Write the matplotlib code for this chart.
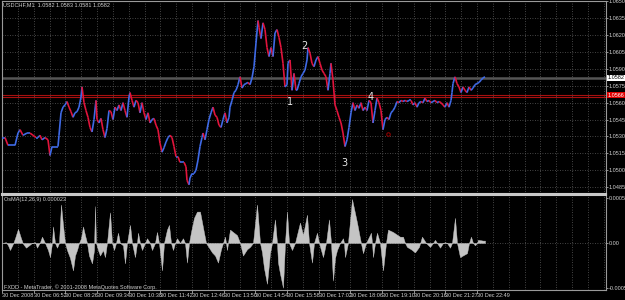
import numpy as np
import matplotlib
matplotlib.use('Agg')
import matplotlib.pyplot as plt
from matplotlib.collections import LineCollection

plt.rcParams['font.family'] = ['Liberation Sans Narrow', 'Liberation Sans', 'DejaVu Sans']

## ---------------------------------------------------------------- ##
## data (x = position along the time axis)
bar_x = [2, 5, 8, 12, 15, 18, 20, 23, 27, 30, 33, 36, 38, 40, 42, 45, 48, 50, 52, 55,
         58, 59, 61, 63, 65, 67, 69, 71, 73, 75, 77, 79, 81, 82, 84, 86, 88, 90, 92, 94,
         96, 97, 99, 101, 103, 105, 107, 109, 111, 113, 115, 117, 119, 121, 123, 125, 127, 129, 130, 132,
         134, 136, 138, 140, 142, 144, 146, 148, 150, 152, 154, 156, 158, 160, 162, 164,
         166, 168, 170, 172, 174, 176, 178, 180, 182, 184, 186, 187, 189, 190, 192, 194, 196, 198, 200, 202,
         203, 205, 207, 209, 211, 213, 215, 217, 219, 221, 223, 225, 227, 229, 230, 232, 234, 236, 238, 240,
         242, 244, 246, 248, 250, 252, 254, 256, 258, 259, 261, 263, 265, 267, 269, 271, 273, 275, 277, 279,
         281, 283, 285, 287, 288, 290, 292, 294, 296, 297, 299, 301, 303, 305, 307, 308, 310, 312, 314, 316,
         318, 320, 322, 324, 326, 328, 330, 331, 333,
         335, 337, 339, 341, 343, 345, 347, 349, 351, 353, 355, 357, 359, 361, 363, 365, 367, 369, 371, 373,
         375, 377, 379, 381, 383, 385, 387, 389, 391, 393, 395, 397, 399, 401, 403, 405, 407, 409, 411, 413,
         415, 417, 419, 421, 423, 425, 427, 429, 431, 433, 435, 437, 439, 441, 443, 445, 447, 449, 451, 452,
         453, 455, 457, 459, 461, 463, 465, 467, 469, 471, 473, 475, 477, 479, 481, 483, 485]
close = [1.0529, 1.0529, 1.0522, 1.0522, 1.0522, 1.0533, 1.0536, 1.0531, 1.0533, 1.0533,
         1.0531, 1.0529, 1.0529, 1.0531, 1.0527, 1.0529, 1.0527, 1.0513, 1.0521, 1.0521,
         1.0521, 1.0531, 1.0551, 1.0556, 1.0558, 1.0561, 1.0556, 1.0552, 1.0547, 1.0551,
         1.0552, 1.0556, 1.0565, 1.0574, 1.0560, 1.0553, 1.0547, 1.0538, 1.0534, 1.0545,
         1.0562, 1.0545, 1.0542, 1.0546, 1.0536, 1.0529, 1.0537, 1.0553, 1.0552, 1.0545,
         1.0556, 1.0553, 1.0558, 1.0553, 1.0560, 1.0553, 1.0547, 1.0565, 1.0569, 1.0562,
         1.0556, 1.0562, 1.0560, 1.0551, 1.0560, 1.0551, 1.0545, 1.0551, 1.0542, 1.0545,
         1.0546, 1.0540, 1.0536, 1.0524, 1.0516, 1.0520,
         1.0525, 1.0529, 1.0531, 1.0529, 1.0521, 1.0512, 1.0512, 1.0507, 1.0507, 1.0507,
         1.0503, 1.0491, 1.0487, 1.0493, 1.0497, 1.0497, 1.0500, 1.0509, 1.0521, 1.0529,
         1.0533, 1.0527, 1.0536, 1.0545, 1.0551, 1.0556, 1.0549, 1.0547, 1.0540, 1.0538,
         1.0545, 1.0551, 1.0542, 1.0547, 1.0556, 1.0562, 1.0569, 1.0571, 1.0576, 1.0583,
         1.0573, 1.0576, 1.0577, 1.0578, 1.0576, 1.0582, 1.0592, 1.0613, 1.0633, 1.0627,
         1.0617, 1.0631, 1.0625, 1.0609, 1.0601, 1.0609, 1.0601, 1.0622, 1.0625, 1.0618,
         1.0609, 1.0595, 1.0574, 1.0576, 1.0595, 1.0598, 1.0571, 1.0586, 1.0571, 1.0571,
         1.0577, 1.0583, 1.0586, 1.0589, 1.0598, 1.0609, 1.0604, 1.0595, 1.0592, 1.0598,
         1.0601, 1.0595, 1.0589, 1.0586, 1.0583, 1.0571, 1.0586, 1.0595, 1.0580,
         1.0558, 1.0553, 1.0547, 1.0542, 1.0533, 1.0521, 1.0527, 1.0538, 1.0551, 1.0560,
         1.0553, 1.0558, 1.0555, 1.0560, 1.0553, 1.0556, 1.0553, 1.0562, 1.0560, 1.0542,
         1.0553, 1.0564, 1.0560, 1.0553, 1.0536, 1.0545, 1.0547, 1.0545, 1.0551, 1.0553,
         1.0556, 1.0561, 1.0560, 1.0562, 1.0561, 1.0562, 1.0561, 1.0562, 1.0562, 1.0558,
         1.0560, 1.0556, 1.0560, 1.0561, 1.0560, 1.0564, 1.0561, 1.0562, 1.0560, 1.0561,
         1.0562, 1.0560, 1.0561, 1.0560, 1.0558, 1.0556, 1.0560, 1.0556, 1.0562, 1.0569,
         1.0577, 1.0583, 1.0577, 1.0574, 1.0569, 1.0574, 1.0571, 1.0569, 1.0574, 1.0571,
         1.0573, 1.0576, 1.0577, 1.0578, 1.0580, 1.0582, 1.0583]

# OsMA(12,26,9) histogram, values in units of 1e-5
osma_x = [2, 6, 8, 10, 13, 15, 18, 21, 23, 26, 29, 32, 35, 37, 40, 42, 45, 48, 50, 52,
          53, 55, 57, 59, 61, 63, 65, 67, 70, 73, 75, 77, 79, 81, 83, 85, 87, 89, 92, 94,
          95, 96, 98, 100, 103, 105, 107, 110, 112, 114, 116, 118, 120, 123, 125, 127, 130, 132, 135, 137,
          138, 140, 142, 145, 147, 150, 152, 155, 157, 159, 162, 164, 167, 169, 171, 173, 175, 177, 180, 183,
          185, 187, 189, 191, 194, 197,
          200, 204, 206, 209, 212, 215, 218, 221, 223, 225, 226, 227, 228, 230, 234, 237, 240, 243, 247, 250,
          253, 257, 260, 262, 264, 267, 270, 272, 275, 277, 278, 280, 283, 285, 287, 289, 292, 295, 300, 303,
          307, 309, 312, 314, 317, 319, 323, 326, 329, 331, 333, 335, 337, 340, 343, 344, 345, 348, 352, 357,
          360, 363, 366, 371, 372, 373, 375, 377, 380, 383, 386, 388, 393, 400, 403, 405, 407, 411, 415, 419,
          422, 426, 430, 433, 435, 437, 440, 443, 445, 447, 450, 452, 455, 457, 460, 467, 469, 471, 473, 475,
          477, 478, 483, 485]
osma_e5 = [0, 1, -3, -9, -1, 6, 18, 6, -1, -6, -3, 0, 1, -6, 1, 8, 0, -9, -18, 0,
           21, 0, -6, 0, 49, 23, 0, -9, -19, -35, -16, -9, 0, 6, 21, 10, 0, -16, -26, -9,
           47, 0, -9, -16, -9, -18, 0, 39, 0, -9, 0, 13, 0, -3, -26, 0, 23, 0, -18, 0,
           13, 0, -9, 0, 6, 0, -9, 0, 14, 0, -35, 0, 17, 23, 0, -9, 0, 6, 0, 6,
           0, -25, 0, 14, 32, 40,
           40, 13, 0, -6, -12, -16, -25, -8, 0, 8, 0, -9, 0, 17, 13, 10, 0, -16, -8, -5,
           0, 49, 0, -12, -32, -52, -13, 0, 30, 0, -25, -39, -57, 0, 40, 0, -9, 0, 26, 10,
           36, 0, -25, 0, 13, 0, -18, 0, 30, 0, -48, -19, -9, 0, 6, 0, -18, 0, 56, 26,
           6, -13, 0, 13, 0, -18, 0, 13, 0, -35, 0, 17, 14, 8, 8, 0, -5, -8, -12, -5,
           8, 0, -5, 0, 4, 0, -6, 0, 1, 0, -6, 0, 32, 0, -18, -13, 0, 8, 0, -3,
           0, 4, 3, 3]

date_labels = ['30 Dec 2008', '30 Dec 06:52', '30 Dec 08:26', '30 Dec 09:34', '30 Dec 10:38',
               '30 Dec 11:42', '30 Dec 12:46', '30 Dec 13:50', '30 Dec 14:54', '30 Dec 15:58',
               '30 Dec 17:02', '30 Dec 18:06', '30 Dec 19:10', '30 Dec 20:16', '30 Dec 21:27',
               '30 Dec 22:49']
price_ticks = [1.0650, 1.0635, 1.0620, 1.0605, 1.0590, 1.0575, 1.0560,
               1.0545, 1.0530, 1.0515, 1.0500, 1.0485]
osma_ticks = [0.00057, 0.0, -0.00057]
osma_ticklabels = ['0.00057', '0.00', '-0.00057']

# wave count written on the chart
wave_names = ['1', '2', '3', '4']
wave_x = [290, 304, 344, 371]
wave_price = [1.0561, 1.0610, 1.0506, 1.0565]

bid = 1.0582
red_levels = [1.05668, 1.0565]
red_label = '1.0566'
header = 'USDCHF,M1  1.0582 1.0583 1.0581 1.0582'

## ---------------------------------------------------------------- ##
up_col = '#3f6ae6'
dn_col = '#e0143c'
grid_col = '#5c5c5c'
txt_col = '#d0d0d0'
fs = 4.0

W, H = 625, 300
fig = plt.figure(figsize=(6.25, 3.0), dpi=100, facecolor='black')
ax = fig.add_axes([2/W, 1-194/H, 604/W, 193/H])
ax2 = fig.add_axes([2/W, 1-290/H, 604/W, 95/H])

label_pos = 2 + 31.67*np.arange(len(date_labels))
grid_pos = 2 + 15.835*np.arange(39)

for a in (ax, ax2):
  a.set_facecolor('black')
  a.set_xlim(2, 606)
  for s in a.spines.values():
    s.set_color('#9a9a9a')
    s.set_linewidth(0.8)
ax.spines['bottom'].set_color('#c8c8c8')
ax.spines['bottom'].set_linewidth(1.5)
ax2.spines['top'].set_color('#c8c8c8')
ax2.spines['top'].set_linewidth(1.5)

# main price panel
ax.set_ylim(1.04788, 1.06504)
ax.yaxis.tick_right()
ax.set_yticks(price_ticks)
ax.set_yticklabels(['%.4f' % p for p in price_ticks])
ax.tick_params(axis='y', colors=txt_col, labelsize=fs, length=1.5, width=0.5, pad=0.6)
ax.set_xticks(grid_pos)
ax.tick_params(axis='x', bottom=False, labelbottom=False)
ax.grid(True, color=grid_col, linestyle=(0, (1, 2)), linewidth=0.6)
ax.set_axisbelow(True)

ax.axhline(bid, color='#555555', lw=1.8, zorder=1)
for lv in red_levels:
  ax.axhline(lv, color='#a81010', lw=0.8, zorder=1)

pts = np.column_stack([bar_x, close])
segs = np.stack([pts[:-1], pts[1:]], axis=1)
cols = [up_col if d >= 0 else dn_col for d in np.diff(close)]
ax.add_collection(LineCollection(segs, colors=cols, linewidths=1.2, zorder=3))

for n, x, p in zip(wave_names, wave_x, wave_price):
  ax.text(x, p, n, color='#e8e8e8', fontsize=7, ha='center', va='center', zorder=4,
          family='DejaVu Sans')
ax.plot([388], [1.0532], marker='o', ms=2.5, mfc='none', mec='#8b0000', mew=0.8, zorder=4)

ytr = ax.get_yaxis_transform()
ax.text(1.003, bid, '%.4f' % bid, transform=ytr, fontsize=fs, color='black',
        ha='left', va='center', clip_on=False,
        bbox=dict(boxstyle='square,pad=0.12', fc='white', ec='none'))
ax.text(1.003, red_levels[0], red_label, transform=ytr, fontsize=fs,
        color='white', ha='left', va='center', clip_on=False,
        bbox=dict(boxstyle='square,pad=0.12', fc='#e00000', ec='none'))

# OsMA panel
osma = np.array(osma_e5)*1e-5
ax2.fill_between(osma_x, 0, osma, color='#c4c4c4', lw=0.3, zorder=3)
ax2.set_ylim(-0.000600, 0.000612)
ax2.yaxis.tick_right()
ax2.set_yticks(osma_ticks)
ax2.set_yticklabels(osma_ticklabels)
ax2.tick_params(axis='y', colors=txt_col, labelsize=fs, length=1.5, width=0.5, pad=0.6)
ax2.set_xticks(label_pos)
ax2.set_xticklabels(date_labels, ha='left')
ax2.set_xticks(grid_pos, minor=True)
ax2.tick_params(axis='x', which='both', colors=txt_col, labelsize=fs, length=2, width=0.5, pad=0.5)
ax2.tick_params(axis='x', which='minor', length=0)
ax2.grid(True, axis='x', which='both', color=grid_col, linestyle=(0, (1, 2)), linewidth=0.6)
ax2.axhline(0, color=grid_col, linestyle=(0, (1, 2)), linewidth=0.6, zorder=1)
ax2.set_axisbelow(True)

fig.text(3/W, 1-5/H, header, color=txt_col, fontsize=fs, va='center', ha='left')
fig.text(4/W, 1-200/H, 'OsMA(12,26,9) 0.000023', color=txt_col, fontsize=fs, va='center', ha='left')
fig.text(4/W, 1-287/H, 'FXDD - MetaTrader, \u00a9 2001-2008 MetaQuotes Software Corp.',
         color=txt_col, fontsize=fs, va='center', ha='left')

fig.savefig('out.png', dpi=100, facecolor='black')
